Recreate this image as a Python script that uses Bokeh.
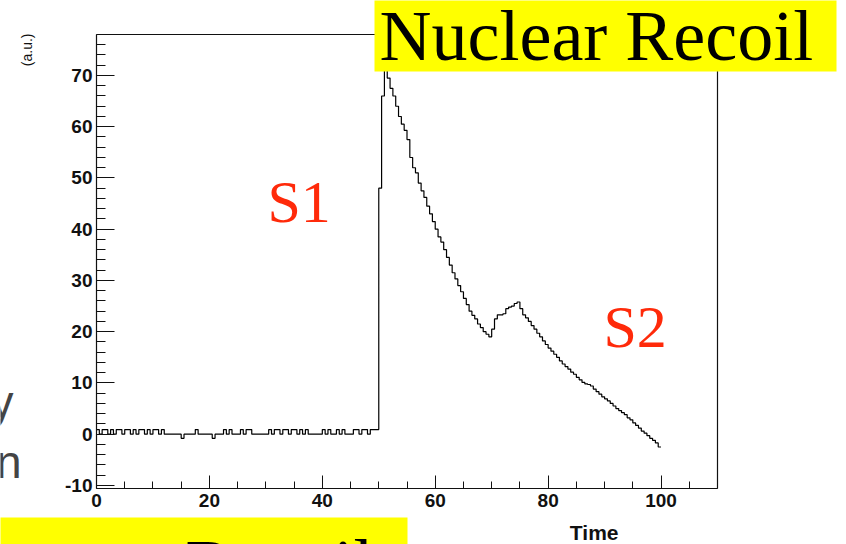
import math
from bokeh.plotting import figure
from bokeh.models import Range1d, FixedTicker, Label, BoxAnnotation, LinearAxis
from bokeh.embed import file_html
from bokeh.resources import INLINE

# ---------------- data ----------------
bin_width = 0.5
# bins t = 0.0 ... 49.5 (pre-trigger baseline noise)
baseline = [
    0.9, 0, 0.9, 0.9, 0, 0.9, 0, 0.9, 0.9, 0, 0.9, 0.9, 0, 0.9, 0, 0.9, 0.9, 0, 0.9, 0, 0.9, 0.9, 0, 0.9,
    0, 0, 0, 0, 0, 0,
    -0.8, 0, 0, 0, 0, 0.9, 0, 0, 0, 0, 0, -0.8, 0, 0, 0,
    0.9, 0, 0.9, 0, 0, 0, 0.9, 0, 0.9, 0.9, 0, 0, 0, 0, 0, 0,
    0.9, 0, 0.9, 0.9, 0, 0.9, 0.9, 0, 0.9, 0.9, 0, 0.9, 0, 0.9, 0,
    0, 0, 0, 0, 0.9, 0, 0.9, 0, 0, 0.9, 0, 0.9, 0, 0, 0,
    0.9, 0.9, 0, 0.9, 0.9, 0, 0.9, 0.9, 0.9,
]
# bins t = 50.0 ... 99.5 (S1 peak, decay, S2 bump)
pulse = [
    48, 66, 71, 69.5, 67.5, 66, 64, 62, 60.5, 59.3,
    57.5, 54, 52, 51, 49, 47.5, 46.2, 44.5, 43, 41.5,
    40, 38.5, 37.5, 36, 34.5, 33, 31.5, 30.3, 29, 27.8,
    26.5, 25.3, 24, 23.2, 22.5, 21.5, 20.8, 20, 19.5, 19,
    20.5, 22.5, 23.3, 23.3, 23.5, 24.5, 24.8, 25, 25.5, 25.8,
    24.5, 23.3, 22.7, 22, 21.2, 20.5, 19.7, 19, 18.2, 17.5,
    16.8, 16.2, 15.6, 15, 14.3, 13.7, 13.2, 12.7, 12.1, 11.7,
    11.1, 10.6, 10.1, 9.8, 9.7, 9.4, 8.8, 8.3, 7.8, 7.3,
    6.9, 6.5, 6.0, 5.5, 5.0, 4.6, 4.2, 3.8, 3.2, 2.8,
    2.2, 1.7, 1.2, 0.6, 0.2, -0.3, -0.8, -1.2, -1.7, -2.5,
]
x_ticks = [0, 20, 40, 60, 80, 100]
y_ticks = [-10, 0, 10, 20, 30, 40, 50, 60, 70]
x_label = "Time"
y_label = "(a.u.)"

values = baseline + pulse
edges = [i * bin_width for i in range(len(values) + 1)]
step_y = values + [values[-1]]

# ---------------- layout ----------------
W, H = 846, 544
FL, FR, FT, FB = 96, 717, 34, 488      # histogram box in canvas pixels
XR = (0, 110)
YR = (-10.6, 78)

def dx(X):
    return XR[0] + (X - FL) / (FR - FL) * (XR[1] - XR[0])

def dy(Y):
    return YR[0] + (FB - Y) / (FB - FT) * (YR[1] - YR[0])

p = figure(width=W, height=H, x_range=Range1d(dx(0), dx(W)), y_range=Range1d(dy(H), dy(0)),
           output_backend="svg", toolbar_location=None,
           x_axis_location=None, y_axis_location=None,
           min_border=0, min_border_left=0, min_border_right=0,
           min_border_top=0, min_border_bottom=0)
p.title.visible = False
p.background_fill_color = "white"
p.border_fill_color = "white"
p.outline_line_color = None
p.xgrid.visible = False
p.ygrid.visible = False

ink = "#111111"

def style_axis(ax):
    ax.axis_line_color = ink
    ax.axis_line_width = 1.2
    ax.major_tick_line_color = ink
    ax.minor_tick_line_color = ink
    ax.major_tick_out = 0
    ax.minor_tick_out = 0
    ax.major_label_text_font = "Liberation Sans"
    ax.major_label_text_font_style = "bold"
    ax.major_label_text_font_size = "19px"
    ax.major_label_text_color = ink

xaxis = LinearAxis(fixed_location=YR[0], bounds=XR,
                   ticker=FixedTicker(ticks=x_ticks, minor_ticks=[v * 5 for v in range(0, 23)]))
style_axis(xaxis)
xaxis.major_tick_in = 13
xaxis.minor_tick_in = 7
xaxis.major_label_standoff = 5
xaxis.major_label_overrides = {t: str(t) for t in x_ticks}
p.add_layout(xaxis, "below")

yaxis = LinearAxis(fixed_location=XR[0], bounds=YR,
                   ticker=FixedTicker(ticks=y_ticks, minor_ticks=[v * 2 for v in range(-5, 40)]))
style_axis(yaxis)
yaxis.major_tick_in = 18
yaxis.minor_tick_in = 9
yaxis.major_label_standoff = 4
yaxis.major_label_overrides = {t: str(t) for t in y_ticks}
p.add_layout(yaxis, "left")

# closing sides of the frame (axes without ticks)
for loc, side, bnds in ((XR[1], "right", YR), (YR[1], "above", XR)):
    a = LinearAxis(fixed_location=loc, bounds=bnds, ticker=FixedTicker(ticks=[]))
    a.axis_line_color = ink
    a.axis_line_width = 1.2
    a.major_tick_line_color = None
    a.minor_tick_line_color = None
    a.major_label_text_alpha = 0
    p.add_layout(a, side)

p.step(edges, step_y, mode="after", line_color="black", line_width=1.2)

red = "#ff2a0a"
serif = "Liberation Serif"

p.add_layout(Label(x=dx(267), y=dy(201), text="S1", text_font=serif,
                   text_font_size="60px", text_color=red, text_baseline="alphabetic"))
p.add_layout(Label(x=dx(603), y=dy(326), text="S2", text_font=serif,
                   text_font_size="60px", text_color=red, text_baseline="alphabetic"))

# yellow boxes
p.add_layout(BoxAnnotation(left=dx(374), right=dx(836), top=dy(-5), bottom=dy(71),
                           fill_color="#ffff00", fill_alpha=1.0, line_alpha=0, level="overlay"))
p.add_layout(BoxAnnotation(left=dx(-5), right=dx(407), top=dy(517), bottom=dy(560),
                           fill_color="#ffff00", fill_alpha=1.0, line_alpha=0, level="overlay"))

p.add_layout(Label(x=dx(379), y=dy(35), text="Nuclear Recoil", text_font=serif,
                   text_font_size="72px", text_color="black", text_baseline="alphabetic",
                   level="overlay"))
p.add_layout(Label(x=dx(185), y=dy(564), text="Recoil", text_font=serif,
                   text_font_size="72px", text_color="black", text_baseline="alphabetic",
                   level="overlay"))

# axis titles (ROOT style)
p.add_layout(Label(x=dx(618), y=dy(532), text=x_label, text_font="Liberation Sans",
                   text_font_style="bold", text_font_size="21px", text_color=ink,
                   text_align="right", text_baseline="alphabetic"))
p.add_layout(Label(x=dx(26), y=dy(33), text=y_label, text_font="Liberation Sans",
                   text_font_size="14px", text_color=ink, angle=math.pi / 2,
                   text_align="right", text_baseline="middle"))

# fragments of neighbouring slide text at the left edge
p.add_layout(Label(x=dx(13), y=dy(401), text="y", text_font="Liberation Sans",
                   text_font_size="46px", text_color="#444444", text_align="right",
                   text_baseline="alphabetic"))
p.add_layout(Label(x=dx(21), y=dy(461), text="n", text_font="Liberation Sans",
                   text_font_size="46px", text_color="#444444", text_align="right",
                   text_baseline="alphabetic"))

open("out.html", "w").write(file_html(p, INLINE))
